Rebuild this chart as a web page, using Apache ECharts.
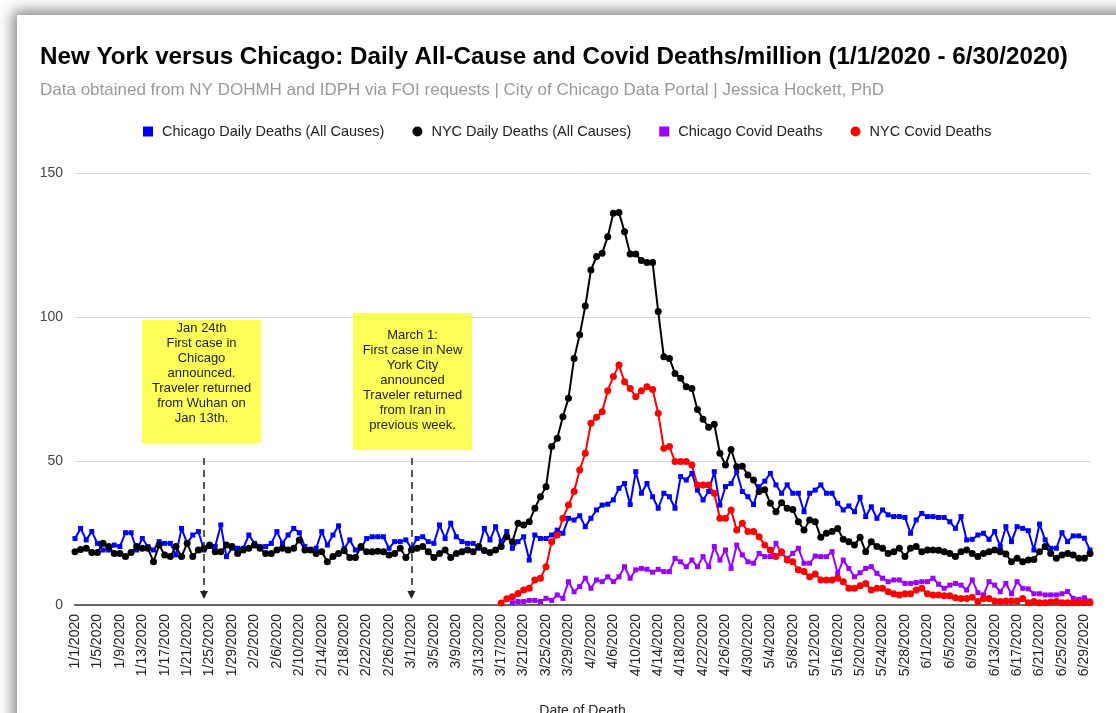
<!DOCTYPE html>
<html>
<head>
<meta charset="utf-8">
<script src="https://cdn.jsdelivr.net/npm/echarts@6/dist/echarts.min.js"></script>
<style>
  html, body { margin: 0; padding: 0; background: #fff; overflow: hidden; }
  #card {
    position: absolute; left: 17px; top: 15px; width: 1300px; height: 900px;
    background: #fff; box-shadow: -1px -1px 14px 3px rgba(0,0,0,0.5);
  }
  #chart { position: absolute; left: 0; top: 0; width: 1116px; height: 713px; }
</style>
</head>
<body>
<div id="card"></div>
<div id="chart"></div>
<script>
// days 1/1/2020 .. 6/30/2020
var dates = [];
for (var i = 0; i < 182; i++) {
  var dt = new Date(2020, 0, 1 + i);
  dates.push((dt.getMonth() + 1) + '/' + dt.getDate() + '/' + dt.getFullYear());
}

// Chicago daily deaths, all causes (per million)
var chicagoAll = [
  23.1, 26.6, 22.6, 25.5, 21.4, 19.1, 19.1, 20.8, 20.3, 25.1,
  25.1, 19.1, 23.1, 20.3, 19.1, 22, 21.4, 21.4, 17.4, 26.6,
  21.4, 24.3, 25.5, 19.1, 20.3, 20.3, 27.8, 16.8, 19.7, 19.7,
  19.7, 24.3, 21.4, 20.3, 20.3, 21.4, 25.5, 21.4, 24.3, 26.6,
  25.1, 20.3, 19.1, 19.7, 25.5, 20.8, 24.3, 27.5, 19.5, 22.6,
  19.1, 19.7, 23.1, 23.7, 23.7, 23.7, 19.7, 22, 22, 22.6,
  19.7, 23.1, 23.7, 22, 21.4, 27.8, 23.1, 28.4, 23.7, 22,
  21.4, 21.4, 19.7, 26.6, 22.6, 27.2, 22, 25.5, 19.7, 22,
  23.7, 15.6, 24.3, 23.1, 23.1, 24.3, 26, 24.9, 30.1, 29.5,
  31, 27.2, 30.1, 33, 34.7, 35, 36.5, 40.5, 42.2, 34.9,
  46.3, 38.8, 42.2, 37.6, 33.6, 38.8, 37.6, 33.6, 44.6, 43.4,
  45.7, 39.9, 36.5, 39.4, 46.3, 34.7, 41.1, 42.2, 46.3, 39.4,
  37.6, 34.9, 41.1, 43, 45.7, 41.7, 38.8, 41.7, 38.8, 38.8,
  32.4, 38.8, 39.9, 41.7, 38.8, 38.8, 35.3, 33, 34.4, 32.4,
  37.4, 30.7, 34.1, 30.1, 33, 31.3, 30.7, 30.7, 30.4, 24.9,
  29.5, 31.8, 30.7, 30.7, 30.4, 30.4, 28.9, 26.6, 30.7, 22.6,
  22.8, 24.3, 24.9, 22.8, 25.5, 20.3, 27.2, 22, 27.2, 26.6,
  25.8, 19.1, 28.1, 22.6, 19.7, 19.7, 25.1, 22, 24, 24,
  23.2, 19.1
];

// NYC daily deaths, all causes (per million)
var nycAll = [
  18.5, 19.3, 19.7, 18.2, 18.2, 21.4, 20.3, 17.9, 17.9, 16.8,
  18.2, 20.3, 19.7, 19.7, 15, 20.8, 17.4, 16.8, 20.3, 16.8,
  21.4, 16.8, 19.1, 19.7, 20.8, 18.5, 18.5, 20.8, 20.3, 17.9,
  19.1, 19.7, 20.8, 19.7, 17.9, 17.9, 19.1, 19.7, 19.1, 19.7,
  22.6, 19.1, 19.1, 17.9, 18.5, 15, 16.8, 17.9, 18.8, 16.5,
  16.5, 20.3, 18.5, 18.5, 18.7, 18.5, 17.4, 17.9, 19.7, 16.5,
  19.1, 19.7, 20.3, 18.5, 16.5, 17.9, 19.1, 16.5, 17.9, 18.5,
  19.1, 18.5, 20.3, 18.9, 18.2, 19.1, 20.3, 23.7, 22, 28.4,
  27.8, 28.9, 33.6, 37.6, 41.1, 55, 57.9, 65.4, 71.8, 85.6,
  93.8, 103.8, 116.3, 121, 122.1, 127.9, 136, 136.3, 129.6, 121.9,
  121.9, 119.6, 118.9, 118.9, 101.9, 86.2, 85.6, 80.4, 78.7, 75.8,
  75.2, 67.9, 64.5, 61.7, 62.8, 52.7, 48.6, 54, 48, 48.2,
  45.1, 43.4, 39.4, 40, 35.3, 32.4, 35.5, 33.6, 33.2, 28.9,
  26, 29.5, 28.9, 23.5, 24.9, 25.5, 26.6, 22.8, 22, 20.8,
  23.5, 18.5, 22, 20.3, 19.7, 17.9, 18.5, 19.7, 16.8, 19.7,
  20.3, 18.5, 19.1, 19.1, 19, 18.5, 17.9, 16.8, 18.5, 19.1,
  17.9, 16.8, 17.9, 18.5, 19.1, 18.5, 17.7, 15, 16.2, 15,
  15.6, 15.8, 18.5, 20.3, 17.9, 16.2, 17.4, 17.9, 17.4, 16.2,
  16.2, 17.9
];

// Chicago covid deaths, from 3/19/2020 (day index 78)
var chicagoCovidStart = 78;
var chicagoCovid = [
  0.8, 1.2, 1.2, 1.6, 1.6, 1.2, 2.3, 1.6, 3.5, 2.3, 8.1, 4.6,
  6.4, 9.3, 5.8, 8.7, 8.1, 9.8, 8.1, 9.8, 13.3, 9.3,
  12.2, 12.7, 12.4, 11.4, 12.4, 11.6, 11.6, 16.2, 15, 13.3,
  15.6, 13.3, 16.8, 13.3, 20.3, 15.6, 19.1, 12.7, 20.8, 17.4,
  15, 14.5, 17.9, 16.8, 16.8, 21.4, 17.9, 16.2, 17.9, 19.7,
  14.5, 14.5, 17, 16.8, 16.8, 18.5, 11, 15.6, 12.7, 9.8,
  11.2, 12.7, 13.3, 11, 9.3, 8.1, 8.7, 8.7, 7.5, 7.5,
  7.8, 8.1, 8.1, 9.3, 7.2, 5.8, 6.9, 7.5, 6.9, 5.2,
  8.7, 4.3, 3.5, 8.1, 6.9, 4.6, 7.5, 3.9, 8.1, 5.8,
  5.6, 3.9, 3.9, 3.5, 3.5, 3.5, 3.9, 4.7, 2.3, 2,
  2.5, 1.4
];

// NYC covid deaths, from 3/17/2020 (day index 76)
var nycCovidStart = 76;
var nycCovid = [
  0.7, 2.2, 2.9, 4,
  5.2, 5.8, 8.7, 9.3, 13.3, 22, 24.3, 30.1, 34.7, 39.4,
  46.9, 52.7, 63.1, 65.2, 67.1, 74.4, 79.3, 83.3, 77.5, 75.2,
  72.3, 74.4, 75.8, 74.8, 66.6, 54.4, 55, 49.8, 49.8, 49.8,
  48.6, 41.7, 41.7, 41.7, 38.8, 30.1, 30.1, 33, 26, 28.4,
  25.5, 25.5, 23.7, 20.8, 19.1, 16.8, 18.5, 15.6, 15, 12.2,
  11.6, 9.8, 10.8, 8.7, 8.7, 8.7, 9.3, 8.1, 5.8, 5.8,
  6.7, 7.5, 5.2, 5.8, 5.8, 4.6, 3.9, 3.5, 3.9, 3.9,
  5.2, 5.8, 3.9, 3.5, 3.5, 3.2, 3.2, 2.5, 2.3, 2.3,
  2.7, 1.2, 2.3, 2.3, 1.4, 1.2, 1.4, 1.4, 1.4, 2.3,
  0.8, 1.2, 0.8, 0.8, 1, 1.2, 0.8, 0.8, 0.8, 0.8,
  0.8, 0.8
];

var seriesNames = ['Chicago Daily Deaths (All Causes)', 'NYC Daily Deaths (All Causes)', 'Chicago Covid Deaths', 'NYC Covid Deaths'];
var yTicks = [0, 50, 100, 150];

function padFrom(start, arr) {
  return new Array(start).fill(null).concat(arr);
}

var FONT = 'Arial, "Liberation Sans", sans-serif';
var chart = echarts.init(document.getElementById('chart'));

// dashed arrow from the note box down to the axis
function arrowLine(day, top, bottom) {
  return [
    { coord: [dates[day], top], symbol: 'none' },
    { coord: [dates[day], bottom], symbol: 'triangle' }
  ];
}

var option = {
  animation: false,
  backgroundColor: 'transparent',
  textStyle: { fontFamily: FONT },
  title: {
    text: 'New York versus Chicago: Daily All-Cause and Covid Deaths/million (1/1/2020 - 6/30/2020)',
    subtext: 'Data obtained from NY DOHMH and IDPH via FOI requests | City of Chicago Data Portal | Jessica Hockett, PhD',
    left: 35,
    top: 40,
    itemGap: 13,
    textStyle: { fontFamily: FONT, fontSize: 24.2, fontWeight: 'bold', color: '#000' },
    subtextStyle: { fontFamily: FONT, fontSize: 17, color: '#999' }
  },
  legend: {
    top: 119,
    left: 138,
    itemWidth: 10,
    itemHeight: 10,
    itemGap: 28,
    textStyle: { fontFamily: FONT, fontSize: 14.5, color: '#222', padding: [0, 0, 0, 4] },
    data: [
      { name: seriesNames[0], icon: 'rect' },
      { name: seriesNames[1], icon: 'circle' },
      { name: seriesNames[2], icon: 'rect' },
      { name: seriesNames[3], icon: 'circle' }
    ]
  },
  grid: { left: 75, right: 26, top: 173, bottom: 108, outerBoundsMode: 'none' },
  xAxis: {
    type: 'category',
    data: dates,
    boundaryGap: false,
    name: 'Date of Death',
    nameLocation: 'middle',
    nameGap: 99,
    nameTextStyle: { fontFamily: FONT, fontSize: 14, color: '#222' },
    axisLine: { lineStyle: { color: '#666', width: 2 } },
    axisTick: { show: false },
    axisLabel: { interval: 3, rotate: 90, margin: 9, fontSize: 14, color: '#222', fontFamily: FONT },
    splitLine: { show: false }
  },
  yAxis: {
    type: 'value',
    min: yTicks[0],
    max: yTicks[yTicks.length - 1],
    interval: 50,
    axisLine: { show: false },
    axisTick: { show: false },
    axisLabel: { fontSize: 14, color: '#444', margin: 12, fontFamily: FONT },
    splitLine: { lineStyle: { color: '#d9d9d9', width: 1 } }
  },
  series: [
    {
      name: seriesNames[0], type: 'line', data: chicagoAll,
      symbol: 'rect', symbolSize: 5, showAllSymbol: true,
      color: '#0000ff', lineStyle: { width: 2 }
    },
    {
      name: seriesNames[1], type: 'line', data: nycAll,
      symbol: 'circle', symbolSize: 7, showAllSymbol: true,
      color: '#000000', lineStyle: { width: 2 },
      markLine: {
        silent: true,
        symbolSize: 8,
        label: { show: false },
        lineStyle: { color: '#222', type: [7, 5], width: 1.5 },
        data: [arrowLine(23, 51, 3.5), arrowLine(60, 51, 3.5)]
      }
    },
    {
      name: seriesNames[2], type: 'line', data: padFrom(chicagoCovidStart, chicagoCovid),
      symbol: 'rect', symbolSize: 5, showAllSymbol: true,
      color: '#9900ff', lineStyle: { width: 2 }
    },
    {
      name: seriesNames[3], type: 'line', data: padFrom(nycCovidStart, nycCovid),
      symbol: 'circle', symbolSize: 7, showAllSymbol: true,
      color: '#ff0000', lineStyle: { width: 2 }
    }
  ],
  graphic: [
    {
      type: 'group', left: 142, top: 320,
      children: [
        { type: 'rect', shape: { x: 0, y: 0, width: 119, height: 123 }, style: { fill: '#ffff5a' } },
        {
          type: 'text', x: 59.5, y: 1,
          style: {
            text: 'Jan 24th\nFirst case in\nChicago\nannounced.\nTraveler returned\nfrom Wuhan on\nJan 13th.',
            align: 'center', verticalAlign: 'top', lineHeight: 15,
            font: '13px ' + FONT, fill: '#222'
          }
        }
      ]
    },
    {
      type: 'group', left: 353, top: 313,
      children: [
        { type: 'rect', shape: { x: 0, y: 0, width: 119, height: 137 }, style: { fill: '#ffff5a' } },
        {
          type: 'text', x: 59.5, y: 15,
          style: {
            text: 'March 1:\nFirst case in New\nYork City\nannounced\nTraveler returned\nfrom Iran in\nprevious week.',
            align: 'center', verticalAlign: 'top', lineHeight: 15,
            font: '13px ' + FONT, fill: '#222'
          }
        }
      ]
    }
  ]
};

chart.setOption(option);
</script>
</body>
</html>
